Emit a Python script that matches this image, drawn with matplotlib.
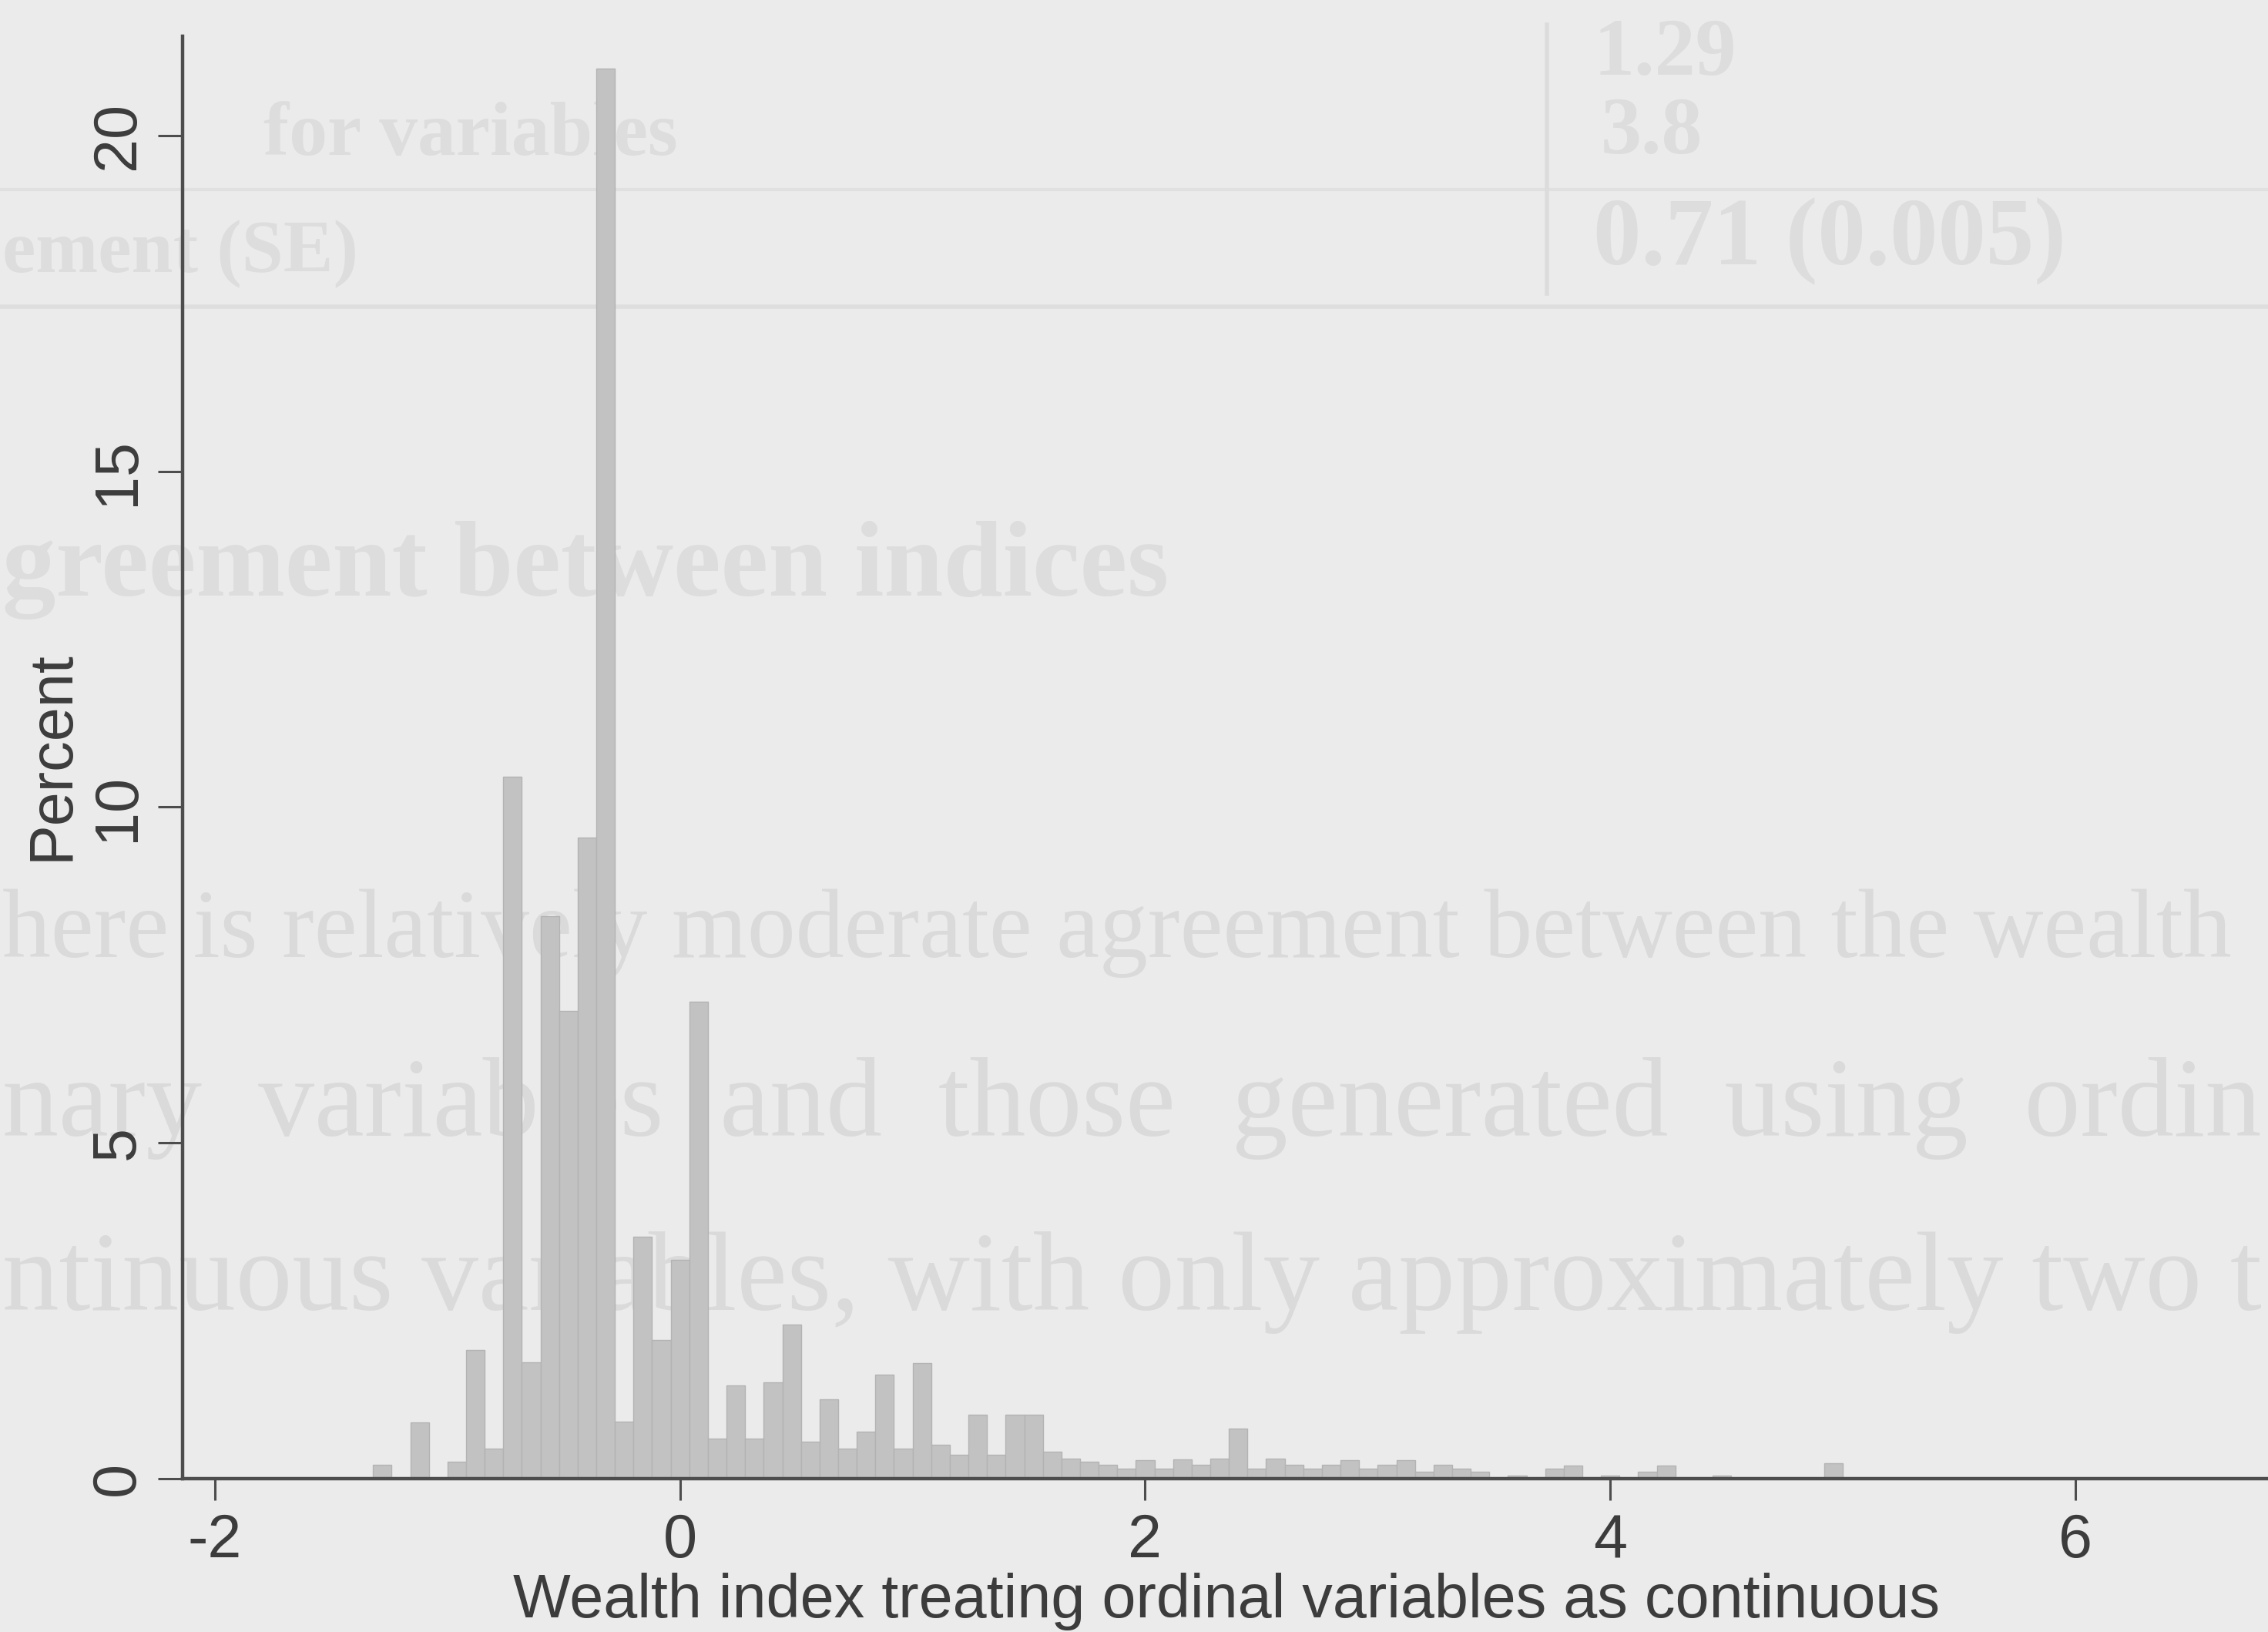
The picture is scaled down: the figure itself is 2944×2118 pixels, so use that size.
import matplotlib
matplotlib.use("Agg")
import matplotlib.pyplot as plt
from matplotlib.ticker import FixedLocator

# Histogram of the wealth index (bin width 0.08), values in percent
bin_width = 0.08
bin_centers = [
    -1.28, -1.12, -0.96, -0.88, -0.80, -0.72, -0.64, -0.56, -0.48, -0.40,
    -0.32, -0.24, -0.16, -0.08, 0.00, 0.08, 0.16, 0.24, 0.32, 0.40,
    0.48, 0.56, 0.64, 0.72, 0.80, 0.88, 0.96, 1.04, 1.12, 1.20,
    1.28, 1.36, 1.44, 1.52, 1.60, 1.68, 1.76, 1.84, 1.92, 2.00,
    2.08, 2.16, 2.24, 2.32, 2.40, 2.48, 2.56, 2.64, 2.72, 2.80,
    2.88, 2.96, 3.04, 3.12, 3.20, 3.28, 3.36, 3.44, 3.60, 3.76,
    3.84, 4.00, 4.16, 4.24, 4.48, 4.96,
]
percent = [
    0.20, 0.84, 0.25, 1.92, 0.45, 10.45, 1.73, 8.37, 6.97, 9.55,
    21.00, 0.85, 3.60, 2.07, 3.26, 7.10, 0.60, 1.39, 0.60, 1.43,
    2.29, 0.55, 1.18, 0.45, 0.70, 1.55, 0.45, 1.72, 0.50, 0.35,
    0.95, 0.36, 0.95, 0.95, 0.40, 0.30, 0.25, 0.20, 0.15, 0.27,
    0.15, 0.29, 0.20, 0.30, 0.75, 0.15, 0.30, 0.20, 0.15, 0.20,
    0.27, 0.15, 0.20, 0.27, 0.10, 0.20, 0.15, 0.10, 0.05, 0.15,
    0.19, 0.05, 0.10, 0.19, 0.05, 0.23,
]

x_ticks = [-2, 0, 2, 4, 6]
y_ticks = [0, 5, 10, 15, 20]
x_label = "Wealth index treating ordinal variables as continuous"
y_label = "Percent"

# Faint text of the page behind: (text, left, right, baseline, weight) in figure
# fractions; right=None reuses a smaller copy of the previous fitted size
page_text = [
    ("greement between indices", 0.0, 0.5166, 0.6348, "bold"),
    ("here is relatively moderate agreement between the wealth", 0.0, 0.9853, 0.4135, "normal"),
    ("nary  variables  and  those  generated  using  ordin", 0.0, 0.998, 0.3040, "normal"),
    ("ntinuous variables, with only approximately two t", 0.0, 0.998, 0.1975, "normal"),
    ("for variables", 0.115, 0.2997, 0.9050, "bold"),
    ("ement (SE)", 0.0, 0.1590, 0.8330, "bold"),
    ("0.71 (0.005)", 0.7015, 0.9120, 0.8380, "bold"),
    ("1.29", 0.7015, None, 0.9540, "bold"),
    ("3.8", 0.7047, None, 0.9060, "bold"),
]

bg = "#ebebeb"
ink = "#3c3c3c"
axis_col = "#4d4d4d"
ghost_bold = "#dddddd"
ghost_body = "#dadada"

plt.rcParams["font.family"] = ["Liberation Sans", "DejaVu Sans"]

fig = plt.figure(figsize=(29.44, 21.18), dpi=100, facecolor=bg)
renderer = fig.canvas.get_renderer()
fig_w_px = fig.get_figwidth() * fig.dpi

# size each background line so it spans its left..right extent
last_size = 80
for txt, left, right, base, weight in page_text:
    t = fig.text(left + 0.001, base, txt, fontsize=100, fontweight=weight,
                 ha="left", va="baseline",
                 color=ghost_bold if weight == "bold" else ghost_body,
                 family=["Liberation Serif", "DejaVu Serif"], zorder=-5)
    if right is None:
        t.set_fontsize(last_size * 0.85)
        continue
    w = t.get_window_extent(renderer).width
    last_size = 100 * (right - left - 0.002) * fig_w_px / w
    t.set_fontsize(last_size)

# ruled lines of the table behind
fig.add_artist(plt.Line2D([0, 1], [0.884, 0.884], color="#e0e0e0", lw=3, zorder=-5))
fig.add_artist(plt.Line2D([0, 1], [0.812, 0.812], color="#dedede", lw=4, zorder=-5))
fig.add_artist(plt.Line2D([0.682, 0.682], [0.82, 0.985], color="#dcdcdc", lw=4, zorder=-5))

ax = fig.add_axes([0.0805, 0.0940, 0.9195, 0.8838])
ax.set_zorder(2)
ax.patch.set_alpha(0)

ax.bar(bin_centers, percent, width=bin_width, align="center",
       color="#c2c2c2", edgecolor="#b3b3b3", linewidth=1.0, zorder=2)

ax.set_xlim(-2.139, 6.828)
ax.set_ylim(0, 21.48)

ax.spines["top"].set_visible(False)
ax.spines["right"].set_visible(False)
for s in ("left", "bottom"):
    ax.spines[s].set_color(axis_col)
    ax.spines[s].set_linewidth(3.2)

ax.xaxis.set_major_locator(FixedLocator(x_ticks))
ax.yaxis.set_major_locator(FixedLocator(y_ticks))
ax.set_xticklabels([str(v) for v in x_ticks])
ax.set_yticklabels([str(v) for v in y_ticks])

ax.tick_params(axis="x", length=20, width=2.2, color=axis_col, pad=12,
               labelsize=57, labelcolor=ink)
ax.tick_params(axis="y", length=23, width=2.2, color=axis_col, pad=10,
               labelsize=57, labelcolor=ink, labelrotation=90)
for lab in ax.get_yticklabels():
    lab.set_va("center")

fig.text(0.5408, 0.0090, x_label, fontsize=57, color=ink, ha="center", va="baseline", zorder=3)
fig.text(0.0299, 0.5368, y_label, fontsize=57, color=ink, rotation=90,
         rotation_mode="anchor", ha="center", va="baseline", zorder=3)

fig.savefig("out.png", dpi=100, facecolor=bg)
